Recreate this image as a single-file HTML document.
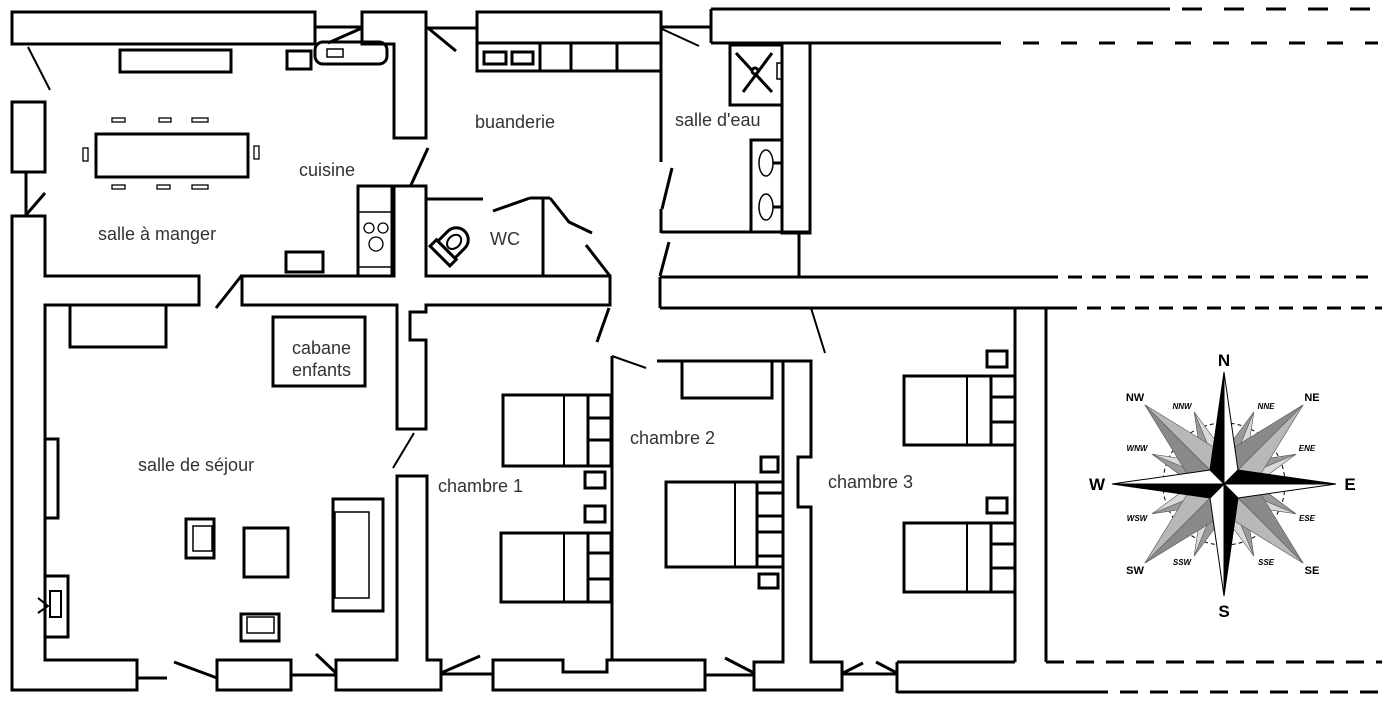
<!DOCTYPE html>
<html><head><meta charset="utf-8"><style>
html,body{margin:0;padding:0;background:#fff;}
svg{display:block;}
text{font-family:"Liberation Sans",sans-serif;}
</style></head><body>
<svg width="1400" height="704" viewBox="0 0 1400 704" xmlns="http://www.w3.org/2000/svg">
<rect width="1400" height="704" fill="#fff"/>
<g fill="none" stroke="#000" stroke-width="3" stroke-linejoin="miter">
<rect x="12" y="12" width="303" height="32"/>
<line x1="315" y1="27" x2="362" y2="27"/>
<path d="M362,12 H426 V138 H394 V44 H362 Z"/>
<rect x="315" y="42" width="72" height="22" rx="8"/>
<rect x="327" y="49" width="16" height="8" stroke-width="1.5"/>
<line x1="328" y1="43" x2="362" y2="28"/>
<rect x="287" y="51" width="24" height="18"/>
<rect x="120" y="50" width="111" height="22"/>
<line x1="28" y1="47" x2="50" y2="90" stroke-width="2"/>
<rect x="12" y="102" width="33" height="70"/>
<line x1="26" y1="172" x2="26" y2="215"/>
<line x1="26" y1="215" x2="45" y2="193"/>
<rect x="96" y="134" width="152" height="43"/>
<g stroke-width="1.3">
<rect x="112" y="118" width="13" height="4"/><rect x="159" y="118" width="12" height="4"/><rect x="192" y="118" width="16" height="4"/>
<rect x="112" y="185" width="13" height="4"/><rect x="157" y="185" width="13" height="4"/><rect x="192" y="185" width="16" height="4"/>
<rect x="83" y="148" width="5" height="13"/><rect x="254" y="146" width="5" height="13"/>
</g>
<path d="M12,216 V690 H137 V660 H45 V305 H199 V276 H45 V216 Z"/>
<line x1="137" y1="678" x2="167" y2="678"/>
<line x1="216" y1="308" x2="242" y2="275"/>
<path d="M242,276 H394 V186 H426 V276 H610 V305 H426 V312 H410 V340 H426 V429 H397 V305 H242 Z"/>
<rect x="358" y="186" width="34" height="90"/>
<line x1="358" y1="212" x2="392" y2="212" stroke-width="1.5"/>
<line x1="358" y1="267" x2="392" y2="267" stroke-width="1.5"/>
<g stroke-width="1.3"><circle cx="369" cy="228" r="5"/><circle cx="383" cy="228" r="5"/><circle cx="376" cy="244" r="7"/></g>
<line x1="411" y1="185" x2="428" y2="148"/>
<rect x="286" y="252" width="37" height="20"/>
<line x1="426" y1="199" x2="483" y2="199"/>
<line x1="493" y1="211" x2="530" y2="198"/>
<line x1="530" y1="198" x2="550" y2="198"/>
<line x1="543" y1="198" x2="543" y2="276"/>
<polyline points="550,198 569,222 592,233"/>
<line x1="586" y1="245" x2="610" y2="276"/>
<g transform="translate(452,244) rotate(45)">
<path d="M-12,8 V-6 A12,12 0 0 1 12,-6 V8 Z"/>
<rect x="-14" y="8" width="28" height="9"/>
<ellipse cx="0" cy="-3" rx="6" ry="8" stroke-width="2"/>
</g>
<line x1="426" y1="28" x2="477" y2="28"/>
<line x1="428" y1="28" x2="456" y2="51"/>
<rect x="477" y="12" width="184" height="59"/>
<line x1="477" y1="43" x2="661" y2="43"/>
<rect x="484" y="52" width="22" height="12"/><rect x="512" y="52" width="21" height="12"/>
<line x1="540" y1="43" x2="540" y2="71"/><line x1="571" y1="43" x2="571" y2="71"/><line x1="617" y1="43" x2="617" y2="71"/>
<line x1="661" y1="12" x2="661" y2="162"/>
<line x1="672" y1="168" x2="662" y2="209"/>
<line x1="661" y1="209" x2="661" y2="233"/>
<line x1="661" y1="232" x2="810" y2="232"/>
<line x1="669" y1="242" x2="660" y2="276"/>
<line x1="661" y1="27" x2="711" y2="27"/>
<line x1="662" y1="29" x2="699" y2="46" stroke-width="2"/>
<line x1="711" y1="9" x2="711" y2="43"/>
<line x1="711" y1="9" x2="1170" y2="9"/>
<line x1="711" y1="43" x2="985" y2="43"/>
<rect x="730" y="45" width="52" height="60"/>
<rect x="777" y="63" width="5" height="16" stroke-width="1.5"/>
<line x1="736" y1="53" x2="772" y2="92"/><line x1="772" y1="53" x2="743" y2="92"/>
<circle cx="755" cy="71" r="3" fill="#fff"/>
<rect x="782" y="43" width="28" height="190"/>
<rect x="751" y="140" width="31" height="92"/>
<g stroke-width="1.5"><ellipse cx="766" cy="163" rx="7" ry="13"/><ellipse cx="766" cy="207" rx="7" ry="13"/></g>
<line x1="773" y1="163" x2="782" y2="163"/><line x1="773" y1="207" x2="782" y2="207"/>
<line x1="799" y1="232" x2="799" y2="277"/>
<line x1="660" y1="277" x2="1044" y2="277"/>
<line x1="660" y1="308" x2="1063" y2="308"/>
<line x1="660" y1="277" x2="660" y2="308"/>
<line x1="609" y1="308" x2="597" y2="342"/>
<line x1="811" y1="308" x2="825" y2="353" stroke-width="2"/>
<rect x="70" y="305" width="96" height="42"/>
<rect x="273" y="317" width="92" height="69"/>
<rect x="45" y="439" width="13" height="79"/>
<rect x="45" y="576" width="23" height="61"/>
<rect x="50" y="591" width="11" height="26" stroke-width="2"/>
<polyline points="38,598 48,606 38,613" stroke-width="2"/>
<rect x="333" y="499" width="50" height="112"/>
<rect x="335" y="512" width="34" height="86" stroke-width="1.5"/>
<rect x="186" y="519" width="28" height="39"/>
<rect x="193" y="526" width="19" height="25" stroke-width="1.5"/>
<rect x="244" y="528" width="44" height="49"/>
<rect x="241" y="614" width="38" height="27"/>
<rect x="247" y="617" width="27" height="16" stroke-width="1.5"/>
<line x1="414" y1="433" x2="393" y2="468" stroke-width="2"/>
<path d="M397,476 H427 V660 H441 V690 H336 V660 H397 Z"/>
<rect x="217" y="660" width="74" height="30"/>
<line x1="291" y1="675" x2="336" y2="675"/>
<line x1="174" y1="662" x2="217" y2="678"/>
<line x1="316" y1="654" x2="336" y2="673"/>
<line x1="441" y1="673" x2="480" y2="656"/>
<line x1="441" y1="674" x2="493" y2="674"/>
<path d="M493,660 H563 V672 H607 V660 H705 V690 H493 Z"/>
<line x1="612" y1="356" x2="612" y2="660"/>
<line x1="612" y1="356" x2="646" y2="368" stroke-width="2"/>
<rect x="503" y="395" width="108" height="71"/>
<line x1="564" y1="395" x2="564" y2="466" stroke-width="2"/><line x1="588" y1="395" x2="588" y2="466"/>
<line x1="588" y1="418" x2="611" y2="418"/><line x1="588" y1="440" x2="611" y2="440"/>
<rect x="501" y="533" width="110" height="69"/>
<line x1="564" y1="533" x2="564" y2="602" stroke-width="2"/><line x1="588" y1="533" x2="588" y2="602"/>
<line x1="588" y1="553" x2="611" y2="553"/><line x1="588" y1="579" x2="611" y2="579"/>
<rect x="585" y="472" width="20" height="16"/>
<rect x="585" y="506" width="20" height="16"/>
<line x1="657" y1="361" x2="783" y2="361"/>
<rect x="682" y="361" width="90" height="37"/>
<path d="M783,361 H811 V457 H798 V507 H811 V662 H842 V690 H754 V662 H783 Z"/>
<rect x="666" y="482" width="117" height="85"/>
<line x1="735" y1="482" x2="735" y2="567" stroke-width="2"/><line x1="757" y1="482" x2="757" y2="567"/>
<line x1="757" y1="493" x2="783" y2="493"/><line x1="757" y1="516" x2="783" y2="516"/><line x1="757" y1="532" x2="783" y2="532"/><line x1="757" y1="556" x2="783" y2="556"/>
<rect x="761" y="457" width="17" height="15"/>
<rect x="759" y="574" width="19" height="14"/>
<line x1="705" y1="675" x2="754" y2="675"/>
<line x1="725" y1="658" x2="754" y2="673"/>
<line x1="842" y1="674" x2="897" y2="674"/>
<line x1="843" y1="673" x2="863" y2="663"/>
<line x1="876" y1="662" x2="897" y2="673"/>
<line x1="897" y1="662" x2="1015" y2="662"/>
<line x1="897" y1="662" x2="897" y2="693"/>
<line x1="897" y1="692" x2="1090" y2="692"/>
<line x1="1015" y1="308" x2="1015" y2="662"/>
<line x1="1046" y1="308" x2="1046" y2="662"/>
<rect x="904" y="376" width="111" height="69"/>
<line x1="967" y1="376" x2="967" y2="445" stroke-width="2"/><line x1="991" y1="376" x2="991" y2="445"/>
<line x1="991" y1="397" x2="1015" y2="397"/><line x1="991" y1="422" x2="1015" y2="422"/>
<rect x="904" y="523" width="111" height="69"/>
<line x1="967" y1="523" x2="967" y2="592" stroke-width="2"/><line x1="991" y1="523" x2="991" y2="592"/>
<line x1="991" y1="544" x2="1015" y2="544"/><line x1="991" y1="568" x2="1015" y2="568"/>
<rect x="987" y="351" width="20" height="16"/>
<rect x="987" y="498" width="20" height="15"/>
<line x1="1046" y1="662" x2="1382" y2="662" stroke-dasharray="18,12"/>
<line x1="1090" y1="692" x2="1382" y2="692" stroke-dasharray="18,12"/>
<line x1="1044" y1="277" x2="1368" y2="277" stroke-dasharray="14,10"/>
<line x1="1063" y1="308" x2="1382" y2="308" stroke-dasharray="14,10"/>
<line x1="985" y1="43" x2="1378" y2="43" stroke-dasharray="16,22"/>
<line x1="1170" y1="9" x2="1378" y2="9" stroke-dasharray="20,22" stroke-dashoffset="-12"/>
</g>
<g font-size="18" fill="#333">
<text x="98" y="240">salle à manger</text>
<text x="299" y="176">cuisine</text>
<text x="475" y="128">buanderie</text>
<text x="675" y="126">salle d'eau</text>
<text x="490" y="245">WC</text>
<text x="292" y="354">cabane</text>
<text x="292" y="376">enfants</text>
<text x="138" y="471">salle de séjour</text>
<text x="438" y="492">chambre 1</text>
<text x="630" y="444">chambre 2</text>
<text x="828" y="488">chambre 3</text>
</g>
<g transform="translate(1224,484)">
<circle r="61" fill="none" stroke="#000" stroke-width="1" stroke-dasharray="4,3"/>
<g stroke="#555" stroke-width="0.6">
<g transform="rotate(22.5)"><polygon points="0,0 0,-78 -9,-42" fill="#9a9a9a"/><polygon points="0,0 0,-78 9,-42" fill="#d8d8d8"/></g>
<g transform="rotate(67.5)"><polygon points="0,0 0,-78 -9,-42" fill="#9a9a9a"/><polygon points="0,0 0,-78 9,-42" fill="#d8d8d8"/></g>
<g transform="rotate(112.5)"><polygon points="0,0 0,-78 -9,-42" fill="#9a9a9a"/><polygon points="0,0 0,-78 9,-42" fill="#d8d8d8"/></g>
<g transform="rotate(157.5)"><polygon points="0,0 0,-78 -9,-42" fill="#9a9a9a"/><polygon points="0,0 0,-78 9,-42" fill="#d8d8d8"/></g>
<g transform="rotate(202.5)"><polygon points="0,0 0,-78 -9,-42" fill="#9a9a9a"/><polygon points="0,0 0,-78 9,-42" fill="#d8d8d8"/></g>
<g transform="rotate(247.5)"><polygon points="0,0 0,-78 -9,-42" fill="#9a9a9a"/><polygon points="0,0 0,-78 9,-42" fill="#d8d8d8"/></g>
<g transform="rotate(292.5)"><polygon points="0,0 0,-78 -9,-42" fill="#9a9a9a"/><polygon points="0,0 0,-78 9,-42" fill="#d8d8d8"/></g>
<g transform="rotate(337.5)"><polygon points="0,0 0,-78 -9,-42" fill="#9a9a9a"/><polygon points="0,0 0,-78 9,-42" fill="#d8d8d8"/></g>
<g transform="rotate(45)"><polygon points="0,0 0,-112 -21,-24" fill="#8a8a8a"/><polygon points="0,0 0,-112 21,-24" fill="#b8b8b8"/></g>
<g transform="rotate(135)"><polygon points="0,0 0,-112 -21,-24" fill="#8a8a8a"/><polygon points="0,0 0,-112 21,-24" fill="#b8b8b8"/></g>
<g transform="rotate(225)"><polygon points="0,0 0,-112 -21,-24" fill="#8a8a8a"/><polygon points="0,0 0,-112 21,-24" fill="#b8b8b8"/></g>
<g transform="rotate(315)"><polygon points="0,0 0,-112 -21,-24" fill="#8a8a8a"/><polygon points="0,0 0,-112 21,-24" fill="#b8b8b8"/></g>
</g>
<g stroke="#000" stroke-width="1">
<g><polygon points="0,0 0,-112 -14,-14" fill="#000"/><polygon points="0,0 0,-112 14,-14" fill="#fff"/></g>
<g transform="rotate(90)"><polygon points="0,0 0,-112 -14,-14" fill="#000"/><polygon points="0,0 0,-112 14,-14" fill="#fff"/></g>
<g transform="rotate(180)"><polygon points="0,0 0,-112 -14,-14" fill="#000"/><polygon points="0,0 0,-112 14,-14" fill="#fff"/></g>
<g transform="rotate(270)"><polygon points="0,0 0,-112 -14,-14" fill="#000"/><polygon points="0,0 0,-112 14,-14" fill="#fff"/></g>
</g>
</g>
<g font-weight="bold" fill="#000" text-anchor="middle">
<text x="1224" y="366" font-size="17">N</text>
<text x="1224" y="617" font-size="17">S</text>
<text x="1097" y="490" font-size="17">W</text>
<text x="1350" y="490" font-size="17">E</text>
<g font-size="11">
<text x="1135" y="401">NW</text><text x="1312" y="401">NE</text>
<text x="1135" y="574">SW</text><text x="1312" y="574">SE</text>
</g>
<g font-size="8" font-style="italic">
<text x="1182" y="409">NNW</text><text x="1266" y="409">NNE</text>
<text x="1137" y="451">WNW</text><text x="1307" y="451">ENE</text>
<text x="1137" y="521">WSW</text><text x="1307" y="521">ESE</text>
<text x="1182" y="565">SSW</text><text x="1266" y="565">SSE</text>
</g>
</g>
</svg>
</body></html>
